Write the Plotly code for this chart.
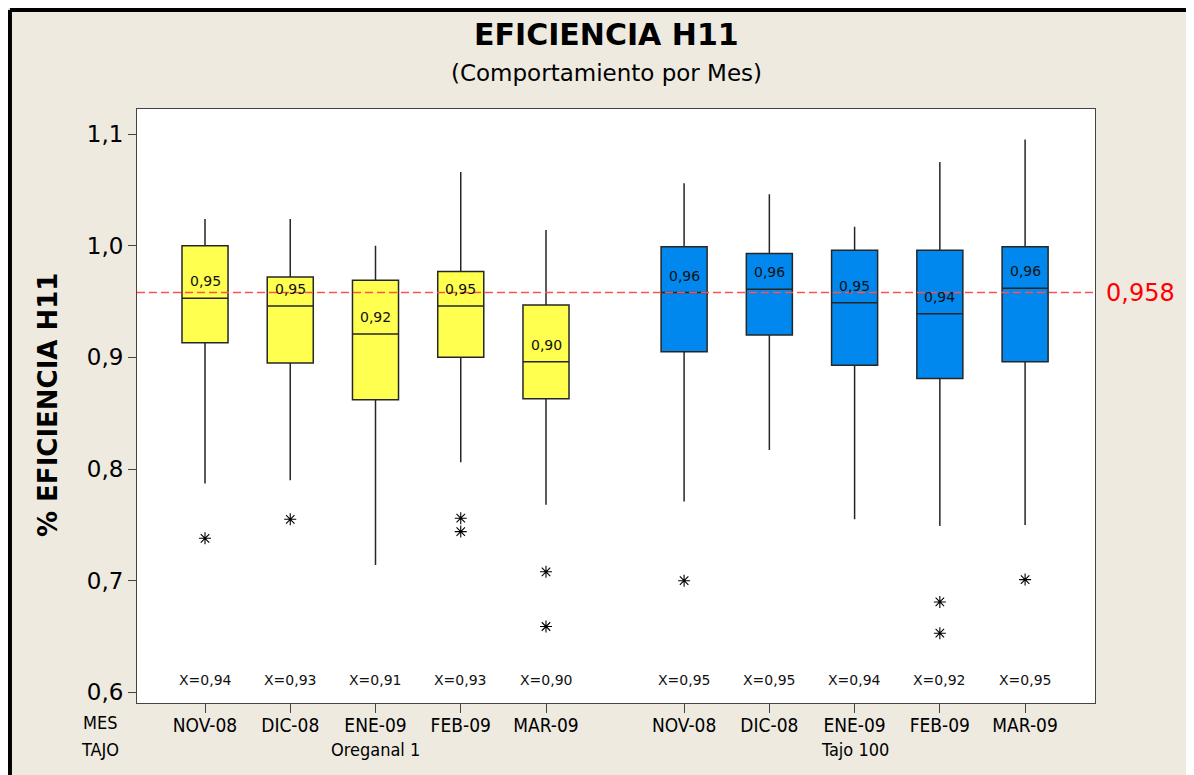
import plotly.graph_objects as go

months = ["NOV-08", "DIC-08", "ENE-09", "FEB-09", "MAR-09"]
groups = ["Oreganal 1", "Tajo 100"]

# Oreganal 1
ore_q1 = [0.913, 0.895, 0.862, 0.900, 0.863]
ore_med = [0.953, 0.946, 0.921, 0.946, 0.896]
ore_q3 = [1.000, 0.972, 0.969, 0.977, 0.947]
ore_lo = [0.787, 0.790, 0.714, 0.806, 0.768]
ore_hi = [1.024, 1.024, 1.000, 1.066, 1.014]
ore_out = [[0.738], [0.755], [], [0.756, 0.744], [0.708, 0.659]]
ore_mean = [0.94, 0.93, 0.91, 0.93, 0.90]

# Tajo 100
taj_q1 = [0.905, 0.920, 0.893, 0.881, 0.896]
taj_med = [0.958, 0.961, 0.949, 0.939, 0.962]
taj_q3 = [0.999, 0.993, 0.996, 0.996, 0.999]
taj_lo = [0.771, 0.817, 0.755, 0.749, 0.750]
taj_hi = [1.056, 1.046, 1.017, 1.075, 1.095]
taj_out = [[0.700], [], [], [0.681, 0.653], [0.701]]
taj_mean = [0.95, 0.95, 0.94, 0.92, 0.95]

ref_value = 0.958
y_ticks = [0.6, 0.7, 0.8, 0.9, 1.0, 1.1]

pos_ore = [1, 2, 3, 4, 5]
pos_taj = [6.62, 7.62, 8.62, 9.62, 10.62]

YELLOW = "#FFFF50"
BLUE = "#0088EE"
BG = "#EEEAE0"
FONT = "DejaVu Sans"
FONTC = "DejaVu Sans Condensed"

def fmt(v, d=2):
    return f"{v:.{d}f}".replace(".", ",")

fig = go.Figure()

for pos, q1, med, q3, lo, hi, col in [
    (pos_ore, ore_q1, ore_med, ore_q3, ore_lo, ore_hi, YELLOW),
    (pos_taj, taj_q1, taj_med, taj_q3, taj_lo, taj_hi, BLUE),
]:
    fig.add_trace(go.Box(
        x=pos, q1=q1, median=med, q3=q3, lowerfence=lo, upperfence=hi,
        fillcolor=col, line=dict(color="#262626", width=1.5),
        whiskerwidth=0, width=0.54, boxpoints=False,
        showlegend=False, hoverinfo="skip",
    ))

# outliers
ox, oy = [], []
for pos, outs in [(pos_ore, ore_out), (pos_taj, taj_out)]:
    for p, vals in zip(pos, outs):
        for v in vals:
            ox.append(p)
            oy.append(v)
fig.add_trace(go.Scatter(
    x=ox, y=oy, mode="markers",
    marker=dict(symbol="asterisk-open", size=10, color="black",
                line=dict(color="black", width=1.1)),
    showlegend=False, hoverinfo="skip",
))

ann = []
for pos, med, mean in [(pos_ore, ore_med, ore_mean), (pos_taj, taj_med, taj_mean)]:
    for p, m, mn in zip(pos, med, mean):
        ann.append(dict(x=p, y=m, xref="x", yref="y", text=fmt(m), showarrow=False,
                        xanchor="center", yanchor="middle", yshift=17,
                        font=dict(family=FONT, size=14, color="#111")))
        ann.append(dict(x=p, y=0.611, xref="x", yref="y", text="X=" + fmt(mn), showarrow=False,
                        xanchor="center", yanchor="middle",
                        font=dict(family=FONT, size=14, color="#111")))

# reference label
ann.append(dict(x=1.0, y=ref_value, xref="paper", yref="y", text=fmt(ref_value, 3),
                showarrow=False, xanchor="left", yanchor="middle", xshift=9,
                font=dict(family=FONT, size=24, color="#FF0000")))

# group labels and row headers
for p, g in zip([pos_ore[2], pos_taj[2]], groups):
    ann.append(dict(x=p, y=-0.079, xref="x", yref="paper", text=g, showarrow=False,
                    xanchor="center", yanchor="middle",
                    font=dict(family=FONTC, size=18, color="black")))
ann.append(dict(x=-0.0386, y=-0.032, xref="paper", yref="paper", text="MES", showarrow=False,
                xanchor="center", yanchor="middle",
                font=dict(family=FONTC, size=18, color="black")))
ann.append(dict(x=-0.0386, y=-0.079, xref="paper", yref="paper", text="TAJO", showarrow=False,
                xanchor="center", yanchor="middle",
                font=dict(family=FONTC, size=18, color="black")))

# titles
ann.append(dict(x=0.4896, y=1.1246, xref="paper", yref="paper", text="<b>EFICIENCIA H11</b>",
                showarrow=False, xanchor="center", yanchor="middle",
                font=dict(family=FONT, size=30, color="black")))
ann.append(dict(x=0.4896, y=1.0606, xref="paper", yref="paper", text="(Comportamiento por Mes)",
                showarrow=False, xanchor="center", yanchor="middle",
                font=dict(family=FONT, size=23, color="black")))
ann.append(dict(x=-0.0929, y=0.5017, xref="paper", yref="paper", text="<b>% EFICIENCIA H11</b>",
                showarrow=False, textangle=-90, xanchor="center", yanchor="middle",
                font=dict(family=FONT, size=26, color="black")))

shapes = [
    # outer frame (left and top edges visible in the cropped reference)
    dict(type="line", xref="paper", yref="paper", x0=-0.1326, x1=-0.1326, y0=-0.2, y1=1.1667,
         line=dict(color="black", width=4)),
    dict(type="line", xref="paper", yref="paper", x0=-0.1326, x1=1.2, y0=1.1667, y1=1.1667,
         line=dict(color="black", width=4)),
    # reference line
    dict(type="line", xref="paper", yref="y", x0=0, x1=1, y0=ref_value, y1=ref_value,
         line=dict(color="#FF5050", width=1.5, dash="8px,4px")),
]

fig.update_layout(
    width=1194, height=775,
    margin=dict(l=129, r=107, t=101, b=80),
    paper_bgcolor=BG, plot_bgcolor="white",
    separators=",.",
    annotations=ann,
    shapes=shapes,
)
fig.update_xaxes(
    range=[0.2023, 11.44], tickvals=pos_ore + pos_taj, ticktext=months + months,
    ticks="outside", ticklen=9, tickcolor="#444", showgrid=False, zeroline=False,
    showline=True, linecolor="#444", linewidth=1, mirror=True, ticklabelstandoff=-4,
    tickfont=dict(family=FONTC, size=19, color="black"),
)
fig.update_yaxes(
    range=[0.5905, 1.1224], tickvals=y_ticks, tickformat=".1f",
    ticks="outside", ticklen=8, tickcolor="#444", showgrid=False, zeroline=False,
    showline=True, linecolor="#444", linewidth=1, mirror=True,
    tickfont=dict(family=FONT, size=23, color="black"),
)

fig.write_html("out.html")
